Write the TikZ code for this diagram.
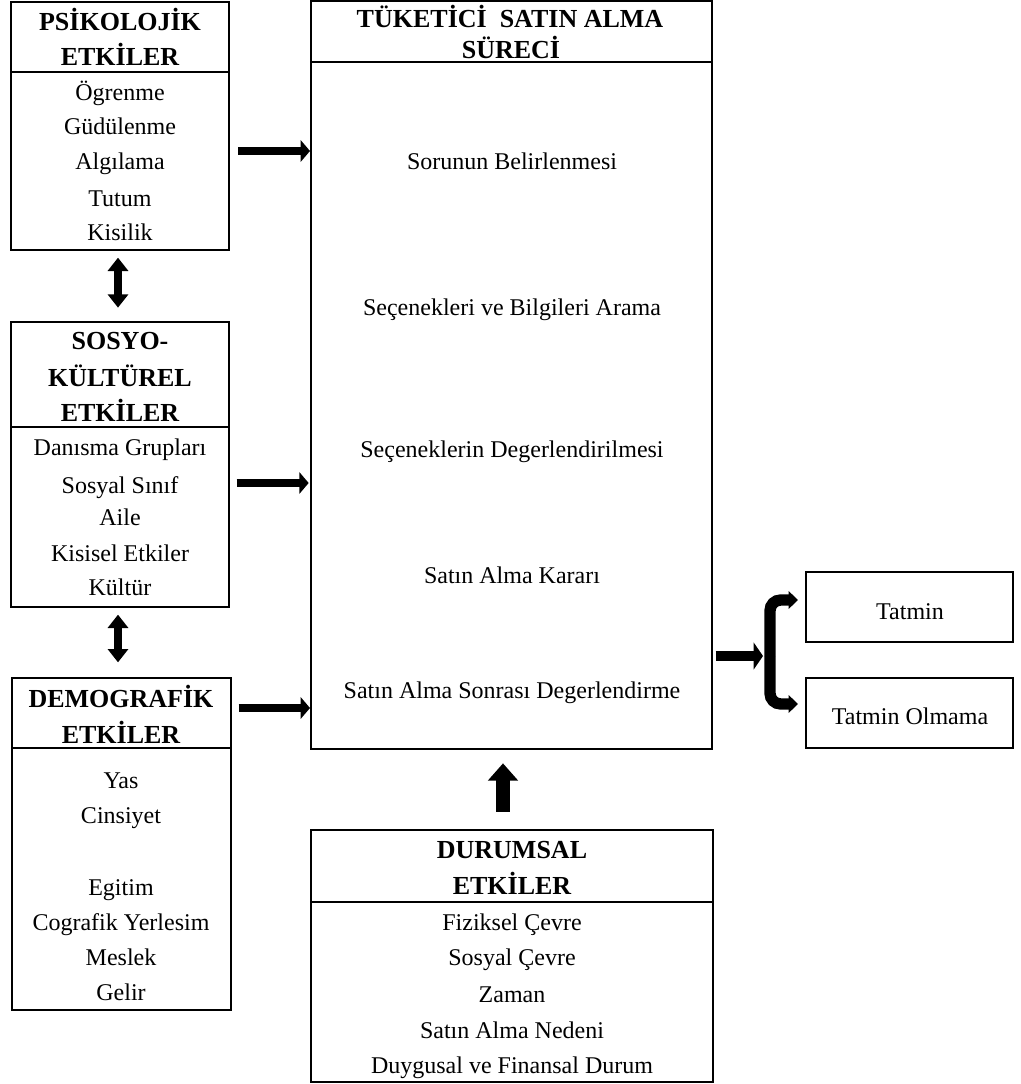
\documentclass[tikz,border=0pt]{standalone}
\usepackage{fontspec}
\setmainfont{Liberation Serif}
\usetikzlibrary{arrows.meta,fit}
\tikzset{
  box/.style={draw, line width=1.5pt, inner sep=0pt},
  divl/.style={line width=1.3pt},
  itm/.style={font=\fontsize{18}{21}\selectfont, text height=12pt, text depth=0pt, inner sep=0pt},
  hdr/.style={font=\bfseries\fontsize{19.5}{23}\selectfont, text height=13pt, text depth=0pt, inner sep=0pt},
  rarrow/.style={line width=6.5pt, -{Triangle[length=7pt,width=16pt]}},
  dblarrow/.style={line width=6pt, {Triangle[length=10pt,width=15pt]}-{Triangle[length=10pt,width=15pt]}},
  uparrow/.style={line width=10pt, -{Triangle[length=13pt,width=22pt]}},
  inarrow/.style={line width=7.5pt, -{Triangle[length=7pt,width=20pt]}},
  branch/.style={line width=8.5pt, rounded corners=8pt, -{Triangle[length=7pt,width=13pt]}},
}
\begin{document}
\begin{tikzpicture}[x=0.75pt,y=-0.75pt]
\useasboundingbox (0,0) rectangle (1020,1084);

% boxes
\node[box, fit={(11,2) (229,250)}] (psy) {};
\node[box, fit={(11,322) (229,607)}] (soc) {};
\node[box, fit={(12,678) (231,1010)}] (dem) {};
\node[box, fit={(311,1) (712,749)}] (cent) {};
\node[box, fit={(311,830) (713,1082)}] (dur) {};
\node[box, fit={(806,572) (1013,642)}] (tat) {};
\node[box, fit={(806,678) (1013,748)}] (tato) {};

% header dividers
\draw[divl] (psy.west |- 0,72) -- (psy.east |- 0,72);
\draw[divl] (soc.west |- 0,427) -- (soc.east |- 0,427);
\draw[divl] (dem.west |- 0,748) -- (dem.east |- 0,748);
\draw[divl] (cent.west |- 0,62) -- (cent.east |- 0,62);
\draw[divl] (dur.west |- 0,902) -- (dur.east |- 0,902);

% headers
\node[hdr] (psyh1) at (120,22) {PSİKOLOJİK};
\node[hdr] (psyh2) at (120,57) {ETKİLER};
\node[hdr] (soch1) at (120,341) {SOSYO-};
\node[hdr] (soch2) at (120,378) {KÜLTÜREL};
\node[hdr] (soch3) at (120,413) {ETKİLER};
\node[hdr] (demh1) at (121,699) {DEMOGRAFİK};
\node[hdr] (demh2) at (121,735) {ETKİLER};
\node[hdr] (centh1) at (510,19) {TÜKETİCİ\ \ SATIN ALMA};
\node[hdr] (centh2) at (511,50) {SÜRECİ};
\node[hdr] (durh1) at (512,850) {DURUMSAL};
\node[hdr] (durh2) at (512,886) {ETKİLER};

% items
\foreach \yy/\tt [count=\i] in {93/Ögrenme, 127/Güdülenme, 162/Algılama, 199/Tutum, 233/Kisilik}
  \node[itm] (psyi\i) at (120,\yy) {\tt};
\foreach \yy/\tt [count=\i] in {447/Danısma Grupları, 485/Sosyal Sınıf, 517/Aile, 553/Kisisel Etkiler, 587/Kültür}
  \node[itm] (soci\i) at (120,\yy) {\tt};
\foreach \yy/\tt [count=\i] in {780/Yas, 815/Cinsiyet, 887/Egitim, 922/Cografik Yerlesim, 957/Meslek, 992/Gelir}
  \node[itm] (demi\i) at (121,\yy) {\tt};
\foreach \yy/\tt [count=\i] in {162/Sorunun Belirlenmesi, 307/Seçenekleri ve Bilgileri Arama, 449/Seçeneklerin Degerlendirilmesi, 575/Satın Alma Kararı, 690/Satın Alma Sonrası Degerlendirme}
  \node[itm] (centi\i) at (512,\yy) {\tt};
\foreach \yy/\tt [count=\i] in {922/Fiziksel Çevre, 957/Sosyal Çevre, 994/Zaman, 1030/Satın Alma Nedeni, 1065/Duygusal ve Finansal Durum}
  \node[itm] (duri\i) at (512,\yy) {\tt};
\node[itm] (tatt) at (910,611) {Tatmin};
\node[itm] (tatot) at (910,716) {Tatmin Olmama};

% arrows into the process box
\draw[rarrow] ([xshift=6pt]psy.east |- 0,151) -- (cent.west |- 0,151);
\draw[rarrow] ([xshift=5pt]soc.east |- 0,483) -- ([xshift=-1pt]cent.west |- 0,483);
\draw[rarrow] ([xshift=5pt]dem.east |- 0,708) -- (cent.west |- 0,708);

% double arrows between left boxes
\draw[dblarrow] ([yshift=-5pt]psy.south -| 118,0) -- ([yshift=10pt]soc.north -| 118,0);
\draw[dblarrow] ([yshift=-5pt]soc.south -| 118,0) -- ([yshift=11pt]dem.north -| 118,0);

% up arrow from situational box
\draw[uparrow] ([yshift=13pt]dur.north -| 503,0) -- ([yshift=-10pt]cent.south -| 503,0);

% split arrow to outcomes
\coordinate (J) at (770,656);
\coordinate (Jin) at (763,656);
\coordinate (t1) at (798,600);
\coordinate (t2) at (798,704);
\draw[inarrow] ([xshift=2pt]cent.east |- J) -- (Jin);
\draw[branch] (J) |- (t1);
\draw[branch] (J) |- (t2);
\end{tikzpicture}
\end{document}
